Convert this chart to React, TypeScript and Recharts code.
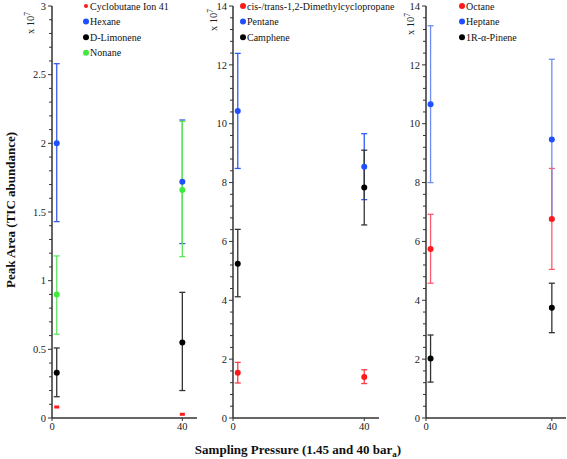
import { ScatterChart, Scatter, XAxis, YAxis, ErrorBar, Legend } from "recharts";

const FONT = '"Liberation Serif", "Times New Roman", serif';
const TXT = { fontFamily: FONT };

const PRESSURES = [1.45, 40];
const X_TICKS = [0, 40];
const X_MAX = 44.5;

// panel 1, values x 10^7
const P1_TICKS = [0, 0.5, 1, 1.5, 2, 2.5, 3];
const cyclobutaneMean = [0.08, 0.027];
const hexaneMean = [2.0, 1.72];
const hexaneLow = [1.43, 1.27];
const hexaneHigh = [2.58, 2.17];
const limoneneMean = [0.33, 0.55];
const limoneneLow = [0.155, 0.2];
const limoneneHigh = [0.51, 0.915];
const nonaneMean = [0.9, 1.66];
const nonaneLow = [0.61, 1.175];
const nonaneHigh = [1.18, 2.16];

// panel 2
const P23_TICKS = [0, 2, 4, 6, 8, 10, 12, 14];
const dimethylMean = [1.54, 1.39];
const dimethylLow = [1.19, 1.17];
const dimethylHigh = [1.89, 1.64];
const pentaneMean = [10.43, 8.54];
const pentaneLow = [8.48, 7.42];
const pentaneHigh = [12.39, 9.66];
const campheneMean = [5.24, 7.83];
const campheneLow = [4.12, 6.56];
const campheneHigh = [6.41, 9.1];

// panel 3
const octaneMean = [5.74, 6.76];
const octaneLow = [4.58, 5.05];
const octaneHigh = [6.92, 8.48];
const heptaneMean = [10.66, 9.46];
const heptaneLow = [8.0, 6.73];
const heptaneHigh = [13.33, 12.19];
const pineneMean = [2.02, 3.75];
const pineneLow = [1.22, 2.9];
const pineneHigh = [2.82, 4.58];

interface Pt {
  x: number;
  y: number;
  err?: [number, number];
}

function toPoints(mean: number[], low?: number[], high?: number[]): Pt[] {
  return PRESSURES.map((x, i) => ({
    x,
    y: mean[i],
    err: low && high ? [mean[i] - low[i], high[i] - mean[i]] : undefined,
  }));
}

interface Series {
  name: string;
  data: Pt[];
  color: string;
  errColor?: string;
  small?: boolean;
}

const panel1: Series[] = [
  { name: "Cyclobutane Ion  41", data: toPoints(cyclobutaneMean), color: "#ff1a1a", small: true },
  { name: "Hexane", data: toPoints(hexaneMean, hexaneLow, hexaneHigh), color: "#1f4fff", errColor: "#3a5de8" },
  { name: "D-Limonene", data: toPoints(limoneneMean, limoneneLow, limoneneHigh), color: "#000000", errColor: "#333333" },
  { name: "Nonane", data: toPoints(nonaneMean, nonaneLow, nonaneHigh), color: "#3ee83e", errColor: "#5ee65e" },
];

const panel2: Series[] = [
  { name: "cis-/trans-1,2-Dimethylcyclopropane", data: toPoints(dimethylMean, dimethylLow, dimethylHigh), color: "#ff1a1a", errColor: "#ff3a4a" },
  { name: "Pentane", data: toPoints(pentaneMean, pentaneLow, pentaneHigh), color: "#1f4fff", errColor: "#2f5cf8" },
  { name: "Camphene", data: toPoints(campheneMean, campheneLow, campheneHigh), color: "#000000", errColor: "#333333" },
];

const panel3: Series[] = [
  { name: "Octane", data: toPoints(octaneMean, octaneLow, octaneHigh), color: "#ff1a1a", errColor: "#ff5a6a" },
  { name: "Heptane", data: toPoints(heptaneMean, heptaneLow, heptaneHigh), color: "#1f4fff", errColor: "#6f8ef2" },
  { name: "1R-\u03b1-Pinene", data: toPoints(pineneMean, pineneLow, pineneHigh), color: "#000000", errColor: "#333333" },
];

function minorTicks(max: number, step: number): number[] {
  const out: number[] = [];
  for (let i = 0; i * step <= max + 1e-9; i++) out.push(+(i * step).toFixed(4));
  return out;
}

function makeYTick(majors: number[]) {
  return (props: any) => {
    const { x, y, payload } = props;
    const major = majors.find((m) => Math.abs(m - payload.value) < 1e-6);
    return (
      <g>
        <line x1={x} x2={x - (major !== undefined ? 4 : 3)} y1={y} y2={y} stroke="#333" strokeWidth={1} />
        {major !== undefined && (
          <text x={x - 6} y={y} dy="0.35em" textAnchor="end" fontSize={10.5} style={TXT} fill="#222">
            {String(major)}
          </text>
        )}
      </g>
    );
  };
}

function XTick(props: any) {
  const { x, y, payload } = props;
  return (
    <text x={x} y={y} dy="0.71em" textAnchor="middle" fontSize={10.5} style={TXT} fill="#222">
      {payload.value}
    </text>
  );
}

function makeLegend(series: Series[]) {
  return () => (
    <svg width={180} height={62} style={{ overflow: "visible", display: "block" }}>
      {series.map((s, i) => {
        const cy = 6 + i * 15.6;
        return (
          <g key={s.name}>
            <circle cx={3} cy={cy} r={s.small ? 2 : 3} fill={s.color} />
            <text x={7} y={cy} dy="0.35em" fontSize={10} style={TXT} fill="#111">
              {s.name}
            </text>
          </g>
        );
      })}
    </svg>
  );
}

interface PanelProps {
  left: number;
  width: number;
  marginLeft: number;
  marginRight: number;
  yMax: number;
  yTicks: number[];
  minorStep: number;
  series: Series[];
  legendLeft: number;
  expOffset: number;
  expY: number;
}

function Panel({ left, width, marginLeft, marginRight, yMax, yTicks, minorStep, series, legendLeft, expOffset, expY }: PanelProps) {
  return (
    <div style={{ position: "absolute", left, top: 0 }}>
      <ScatterChart
        width={width}
        height={459}
        margin={{ top: 6, right: marginRight, left: marginLeft, bottom: 11 }}
      >
        <XAxis
          type="number"
          dataKey="x"
          domain={[0, X_MAX]}
          ticks={X_TICKS}
          interval={0}
          height={30}
          tickSize={3}
          tickMargin={2}
          axisLine={{ stroke: "#333", strokeWidth: 1.5 }}
          tickLine={{ stroke: "#333" }}
          tick={XTick}
        />
        <YAxis
          type="number"
          dataKey="y"
          domain={[0, yMax]}
          ticks={minorTicks(yMax, minorStep)}
          interval={0}
          width={40}
          tickSize={0}
          tickMargin={0}
          tickLine={false}
          axisLine={{ stroke: "#333", strokeWidth: 1.5 }}
          tick={makeYTick(yTicks)}
          label={{
            content: (p: any) => {
              const vb = p.viewBox || {};
              const cx = vb.x + vb.width - expOffset;
              const cy = expY;
              return (
                <text
                  x={cx}
                  y={cy}
                  transform={`rotate(-90 ${cx} ${cy})`}
                  textAnchor="middle"
                  dy="0.35em"
                  fontSize={10.5}
                  style={TXT}
                  fill="#222"
                >
                  x 10
                  <tspan dy={-4} fontSize={7.5}>
                    7
                  </tspan>
                </text>
              );
            },
          }}
        />
        <Legend
          layout="vertical"
          align="center"
          verticalAlign="middle"
          wrapperStyle={{ left: legendLeft, top: 0, width: 180 }}
          content={makeLegend(series)}
        />
        {series.map((s) => (
          <Scatter
            key={s.name}
            name={s.name}
            data={s.data}
            fill={s.color}
            isAnimationActive={false}
            shape={(p: any) =>
              s.small ? (
                <rect x={p.cx - 2.5} y={p.cy - 1.5} width={5} height={3} fill={s.color} />
              ) : (
                <circle cx={p.cx} cy={p.cy} r={3} fill={s.color} />
              )
            }
          >
            {s.errColor && (
              <ErrorBar dataKey="err" direction="y" width={3} stroke={s.errColor} strokeWidth={1.3} />
            )}
          </Scatter>
        ))}
      </ScatterChart>
    </div>
  );
}

export default function App() {
  return (
    <div
      style={{
        position: "absolute",
        left: 0,
        top: 0,
        width: 567,
        height: 459,
        background: "#fff",
        fontFamily: FONT,
        overflow: "hidden",
      }}
    >
      <Panel
        left={0}
        width={200}
        marginLeft={12}
        marginRight={3}
        yMax={3}
        yTicks={P1_TICKS}
        minorStep={0.1}
        series={panel1}
        legendLeft={83}
        expOffset={22}
        expY={23}
      />
      <Panel
        left={190}
        width={190}
        marginLeft={3}
        marginRight={1}
        yMax={14}
        yTicks={P23_TICKS}
        minorStep={0.4}
        series={panel2}
        legendLeft={50}
        expOffset={20}
        expY={20}
      />
      <Panel
        left={383}
        width={184}
        marginLeft={3}
        marginRight={1}
        yMax={14}
        yTicks={P23_TICKS}
        minorStep={0.4}
        series={panel3}
        legendLeft={76}
        expOffset={16}
        expY={24}
      />
      <svg width={567} height={459} style={{ position: "absolute", left: 0, top: 0, pointerEvents: "none" }}>
        <text
          x={10}
          y={210}
          transform="rotate(-90 10 210)"
          textAnchor="middle"
          dy="0.35em"
          fontSize={13}
          fontWeight="bold"
          style={TXT}
          fill="#111"
        >
          Peak Area (TIC abundance)
        </text>
        <text x={298} y={454} textAnchor="middle" fontSize={13} fontWeight="bold" style={TXT} fill="#111">
          Sampling Pressure (1.45 and 40 bar
          <tspan dy={2.5} fontSize={9}>
            a
          </tspan>
          <tspan dy={-2.5}>)</tspan>
        </text>
      </svg>
    </div>
  );
}
